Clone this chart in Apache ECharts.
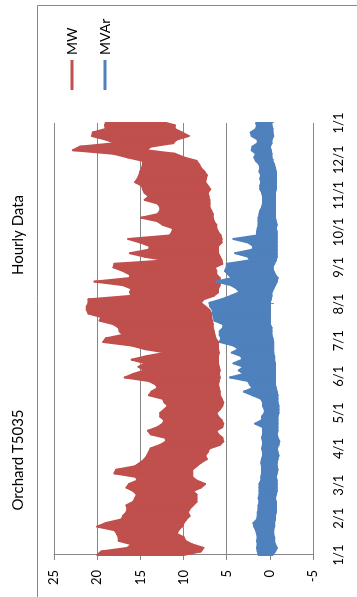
<!DOCTYPE html>
<html>
<head>
<meta charset="utf-8">
<script src="https://cdn.jsdelivr.net/npm/echarts@6/dist/echarts.min.js"></script>
<style>
  html, body { margin: 0; padding: 0; background: #fff; overflow: hidden; }
  /* chart is laid out landscape, then turned a quarter turn to the left */
  #chart {
    position: absolute; left: 0; top: 0;
    width: 597px; height: 357px;
    transform-origin: 0 0;
    transform: translateY(597px) rotate(-90deg);
  }
</style>
</head>
<body>
<div id="chart"></div>
<script>
// month start ticks (day of year) and their labels
var monthDays = [0, 31, 59, 90, 120, 151, 181, 212, 243, 273, 304, 334, 365];
var monthLabels = ['1/1', '2/1', '3/1', '4/1', '5/1', '6/1', '7/1', '8/1', '9/1', '10/1', '11/1', '12/1', '1/1'];

// hourly data read as a low/high envelope, sampled every 3 days
var sampleDays = [0, 3, 6, 9, 12, 15, 18, 21, 24, 27, 30, 33, 36, 39, 42, 45, 48, 51, 54, 57,
  60, 63, 66, 69, 72, 75, 78, 81, 84, 87, 90, 93, 96, 99, 102, 105, 108, 111, 114, 117,
  120, 123, 126, 129, 132, 135, 138, 141, 144, 147, 150, 153, 156, 159, 162, 165, 168, 171, 174, 177, 180,
  183, 186, 189, 192, 195, 198, 201, 204, 207, 210, 213, 216, 219, 222, 225, 228, 231, 234, 237, 240, 243,
  246, 249, 252, 255, 258, 261, 264, 267, 270, 273, 276, 279, 282, 285, 288, 291, 294, 297, 300, 303, 306,
  309, 312, 315, 318, 321, 324, 327, 330, 333, 336, 339, 342, 345, 348, 351, 354, 357, 360, 363, 365];

var mwHigh = [20, 19.5, 16.5, 16, 17.5, 17.5, 17.7, 18, 20, 19, 17.2, 17, 16.6, 16.5, 16.6, 15.8, 15.6, 15.4, 15.8, 16.6,
  16.3, 15.3, 15.5, 18, 17.8, 15.6, 15, 14.5, 14.2, 14, 13.8, 12.7, 12, 12.1, 13.8, 14.1, 13, 12.4, 12.2, 12.7,
  12.7, 12.2, 11.8, 12.2, 12.4, 14, 13.7, 13, 13.2, 14, 16.8, 15.8, 14.5, 15.2, 14.4, 16, 14.3, 12, 14.5, 16, 19.3,
  19, 17, 17.4, 17.5, 18.1, 19.7, 19.5, 21, 21.2, 21.2, 21, 21, 16, 16.2, 16, 17, 20.3, 16.2, 16.2, 17, 18.1,
  18, 12, 14.5, 16.2, 14, 13.9, 15, 16.4, 11.6, 11.3, 11.2, 12.4, 13, 14.9, 13, 12.7, 12.7, 13, 14.5, 14, 14.5,
  14.7, 14.8, 15.6, 15.3, 15.1, 15, 14.8, 14.7, 14.7, 16.5, 18.1, 22.8, 22, 17.9, 19, 20.6, 20.5, 19, 19.1, 19];
var mwLow = [10, 8, 7.7, 9, 9.8, 10, 10.8, 10.6, 10.2, 10, 9.7, 9.3, 9.5, 9.3, 8.9, 8.5, 8.5, 8.5, 8.9, 8,
  7.5, 8.5, 9, 9, 9, 8.5, 8, 7.3, 7.5, 7.2, 7, 5.8, 5.4, 5.5, 6, 6.2, 5.5, 5.4, 5.6, 6,
  6.2, 5.8, 5.5, 5.4, 5.6, 5.8, 5.8, 5.9, 6, 5.9, 5.8, 5.9, 5.8, 5.9, 6, 6, 6, 5.9, 6, 6, 6,
  6.3, 6.4, 6.5, 6.6, 6.6, 6.7, 6.8, 6.8, 7, 7.5, 8, 7.7, 6.5, 6, 6, 5.8, 5.8, 5.8, 6.2, 6.2, 6.4,
  5.5, 5.6, 5.8, 6, 6, 6, 5.6, 5.6, 5.7, 6, 6.2, 6.2, 6.5, 6.6, 6.6, 6.8, 7, 7, 7, 7.1, 7.2,
  6.9, 7.2, 7.5, 7.4, 7.3, 7.6, 8, 8.2, 8.5, 10, 11, 14.3, 13.8, 11.2, 10.8, 9.4, 10.2, 11, 11, 12];

var mvarHigh = [1.3, 1.4, 1.5, 1.4, 1.5, 1.4, 1.5, 1.6, 1.8, 1.9, 1.5, 1.4, 1.4, 1.3, 1.3, 1.2, 1.3, 1.2, 1.2, 1.2,
  1.2, 1.0, 1.0, 0.9, 0.9, 0.9, 1.0, 0.9, 0.8, 0.8, 0.9, 0.8, 0.8, 0.9, 0.8, 0.8, 0.8, 1.7, 0.9, 0.9,
  0.6, 0.6, 0.8, 0.8, 1.0, 2.0, 3.0, 2.0, 2.3, 2.5, 4.6, 3.0, 3.6, 3.0, 4.2, 3.2, 3.3, 4.4, 3.6, 4.2, 5.8,
  5.6, 5.8, 5.8, 5.4, 5.4, 6.4, 6.5, 6.6, 6.6, 6.9, 7.0, 5.6, 4.5, 3.5, 3.8, 4.5, 6.2, 4.4, 4.8, 5.2, 5.0,
  5.0, 2.3, 2.5, 4.0, 2.0, 1.9, 2.5, 4.2, 1.5, 1.5, 1.4, 1.3, 1.3, 1.3, 1.2, 1.1, 0.9, 0.8, 0.8, 0.8, 0.9,
  1.1, 1.1, 1.0, 1.1, 1.0, 1.2, 1.1, 1.2, 1.6, 1.8, 1.6, 2.1, 2.0, 1.4, 1.4, 2.1, 2.2, 1.6, 1.5, 1.6];
var mvarLow = [-0.3, -0.6, -0.8, -0.6, -0.5, -0.5, -0.4, -0.4, -0.5, -0.5, -0.6, -0.6, -0.7, -0.7, -0.7, -0.7, -0.6, -0.7, -0.8, -0.8,
  -0.8, -0.8, -0.7, -0.8, -0.9, -0.8, -0.8, -0.9, -1.0, -0.9, -0.8, -1.0, -1.1, -0.9, -0.8, -0.9, -0.9, -0.9, -0.9, -0.9,
  -1.0, -1.0, -1.0, -0.9, -0.9, -0.9, -0.8, -0.7, -0.6, -0.6, -0.6, -0.6, -0.6, -0.6, -0.6, -0.5, -0.5, -0.4, -0.4, -0.4, -0.4,
  -0.3, -0.2, -0.2, -0.2, 0, 0, 0, 0, 0, 0, 0, -0.1, -0.2, -0.2, -0.4, -0.6, -0.8, -0.9, -0.6, -0.4, -0.3,
  -0.5, -0.7, -0.8, -0.8, -0.8, -0.8, -0.8, -0.8, -0.8, -0.8, -0.7, -0.8, -0.7, -0.6, -0.6, -0.6, -0.6, -0.6, -0.6, -0.6, -0.6,
  -0.7, -0.7, -0.7, -0.7, -0.7, -0.7, -0.6, -0.5, -0.3, -0.2, -0.2, -0.1, 0.0, -0.2, -0.2, -0.4, -0.3, -0.3, -0.2, -0.2];

var gridColor = '#868686';
var fontName = 'Lato';

// one filled band between low and high, drawn piece by piece on the axes
var bandSeries = function (name, color, low, high) {
    var data = [];
    for (var i = 0; i < sampleDays.length - 1; i++) {
        data.push([sampleDays[i], low[i], high[i], sampleDays[i + 1], low[i + 1], high[i + 1]]);
    }
    return {
        type: 'custom',
        name: name,
        xAxisIndex: 0,
        yAxisIndex: 0,
        itemStyle: { color: color },
        encode: { x: [0, 3], y: [1, 2, 4, 5] },
        silent: true,
        renderItem: function (params, api) {
            var p1 = api.coord([api.value(0), api.value(1)]);
            var p2 = api.coord([api.value(0), api.value(2)]);
            var p3 = api.coord([api.value(3), api.value(5)]);
            var p4 = api.coord([api.value(3), api.value(4)]);
            return {
                type: 'polygon',
                shape: { points: [p1, p2, p3, p4] },
                style: { fill: color, stroke: color, lineWidth: 2, lineJoin: 'round' }
            };
        },
        data: data
    };
};

var chart = echarts.init(document.getElementById('chart'), null, { renderer: 'canvas' });

var option = {
    animation: false,
    textStyle: { fontFamily: fontName },
    graphic: [
        {
            type: 'rect',
            shape: { x: -5, y: 37.5, width: 596.5, height: 330 },
            style: { fill: 'none', stroke: gridColor, lineWidth: 1 },
            silent: true
        },
        {
            type: 'text', x: 137, y: 18,
            style: { text: 'Orchard T5035', align: 'center', verticalAlign: 'middle',
                     fontSize: 15, fontFamily: fontName, fill: '#000' }
        },
        {
            type: 'text', x: 362, y: 18,
            style: { text: 'Hourly Data', align: 'center', verticalAlign: 'middle',
                     fontSize: 15, fontFamily: fontName, fill: '#000' }
        }
    ],
    legend: {
        orient: 'vertical',
        left: 502,
        top: 60,
        itemWidth: 30,
        itemHeight: 3,
        itemGap: 19,
        textStyle: { fontSize: 14, color: '#000', fontFamily: fontName },
        data: [{ name: 'MW', icon: 'rect' }, { name: 'MVAr', icon: 'rect' }]
    },
    grid: { left: 42, right: 123, top: 54, bottom: 44 },
    xAxis: [
        {
            type: 'value',
            min: 0,
            max: 365,
            axisLine: { show: false, onZero: false },
            axisTick: { show: false },
            splitLine: { show: false },
            axisLabel: {
                customValues: monthDays,
                margin: 19,
                fontSize: 13,
                color: '#000',
                formatter: function (v) {
                    var k = monthDays.indexOf(v);
                    return k >= 0 ? monthLabels[k] : '';
                }
            }
        },
        {
            // the date axis itself crosses the value axis at 0
            type: 'value',
            min: 0,
            max: 365,
            position: 'bottom',
            axisLine: { show: true, onZero: true, onZeroAxisIndex: 0, lineStyle: { color: gridColor } },
            axisTick: { show: true, customValues: monthDays, length: 4, lineStyle: { color: gridColor } },
            axisLabel: { show: false },
            splitLine: { show: false }
        }
    ],
    yAxis: {
        type: 'value',
        min: -5,
        max: 25,
        interval: 5,
        axisLine: { show: true, lineStyle: { color: gridColor } },
        axisTick: { show: true, length: 5, lineStyle: { color: gridColor } },
        splitLine: { show: true, lineStyle: { color: gridColor, width: 1 } },
        axisLabel: { fontSize: 13, color: '#000', margin: 15 }
    },
    series: [
        bandSeries('MW', '#C0504D', mwLow, mwHigh),
        bandSeries('MVAr', '#4F81BD', mvarLow, mvarHigh)
    ]
};

chart.setOption(option);
</script>
</body>
</html>
